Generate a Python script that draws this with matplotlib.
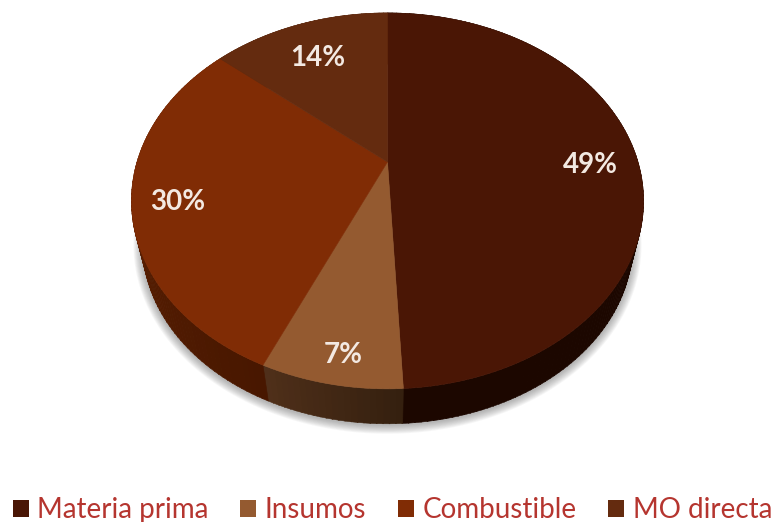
import numpy as np
import matplotlib
matplotlib.use('Agg')
import matplotlib.pyplot as plt
from matplotlib.patches import Patch

categories = ['Materia prima', 'Insumos', 'Combustible', 'MO directa']
values = [49.2, 7.4, 29.7, 13.7]
labels = ['49%', '7%', '30%', '14%']

top_colors = ['#4a1605', '#945a30', '#802c05', '#642b0f']
# wall shade at the start and the end of each slice, going clockwise
wall_start = ['#1c0700', '#35200f', '#481700', '#4a1f0a']
wall_end = ['#1c0700', '#50301a', '#6a2604', '#4a1f0a']
# nudges for the percentage labels, in pixels
label_shift = [(6, -7), (-2, -26), (-10, -7), (2, -8)]

# perspective of the disc, in pixels around the apex
scale_x = 250.5
scale_y = 179.9
tilt = 0.207
# lower rim of the wall is a bit smaller than the top
rim_scale = 0.957
rim_drop = 43
disc_mid = -39


def project(angle, r=1.0):
    # angle is clockwise from the top, in radians
    u = r * np.sin(angle)
    v = r * np.cos(angle)
    w = 1 + tilt * v
    return scale_x * u / w, scale_y * v / w


def lower_rim(x, y):
    return x * rim_scale, disc_mid - rim_drop + (y - disc_mid) * rim_scale


def hex_mix(c1, c2, t):
    a = np.array(matplotlib.colors.to_rgb(c1))
    b = np.array(matplotlib.colors.to_rgb(c2))
    return tuple(a + (b - a) * t)


fig = plt.figure(figsize=(7.77, 5.22), dpi=100)
ax = fig.add_axes([0, 0, 1, 1])
ax.set_xlim(-387.5, 389.5)
ax.set_ylim(-360, 162)
ax.axis('off')

# soft shadow under the disc
full = np.linspace(0, 2 * np.pi, 361)
sx, sy = lower_rim(*project(full))
for grow in np.linspace(9, 1, 10):
    ax.fill(sx * (1 + grow / 245), disc_mid - rim_drop + (sy - disc_mid + rim_drop) * (1 + grow / 180) - 1,
            color='#555555', alpha=0.05, lw=0, zorder=1)

edges = np.cumsum([0] + values) / sum(values) * 2 * np.pi

# side wall, cut into thin strips so it can be shaded
for i in range(len(values)):
    steps = max(int(values[i] * 3), 2)
    angles = np.linspace(edges[i], edges[i + 1], steps + 1)
    for j in range(steps):
        a = np.linspace(angles[j], angles[j + 1] + 0.003, 6)
        x, y = project(a)
        bx, by = lower_rim(x, y)
        ax.fill(np.r_[x, bx[::-1]], np.r_[y, by[::-1]],
                color=hex_mix(wall_start[i], wall_end[i], j / steps),
                lw=0.4, zorder=2)

# top of the disc
for i in range(len(values)):
    a = np.linspace(edges[i], edges[i + 1], 200)
    x, y = project(a)
    ax.fill(np.r_[0, x], np.r_[0, y], color=top_colors[i], lw=0.4, zorder=3)

# percentage labels
for i in range(len(values)):
    mid = (edges[i] + edges[i + 1]) / 2
    x, y = project(mid, 0.79)
    ax.text(x + label_shift[i][0], y + label_shift[i][1], labels[i],
            color='#f3e9e2', fontsize=20, fontweight='bold',
            family='Lato', ha='center', va='center', zorder=4)

handles = [Patch(facecolor=c, edgecolor='none') for c in top_colors]
leg = ax.legend(handles, categories, ncol=4, loc='lower center',
                bbox_to_anchor=(0.505, -0.002), frameon=False,
                prop={'family': 'Lato', 'size': 20}, labelcolor='#b5352f',
                handlelength=0.58, handleheight=0.58, handletextpad=0.3,
                columnspacing=1.14, borderpad=0, borderaxespad=0)

fig.savefig('out.png', dpi=100)
